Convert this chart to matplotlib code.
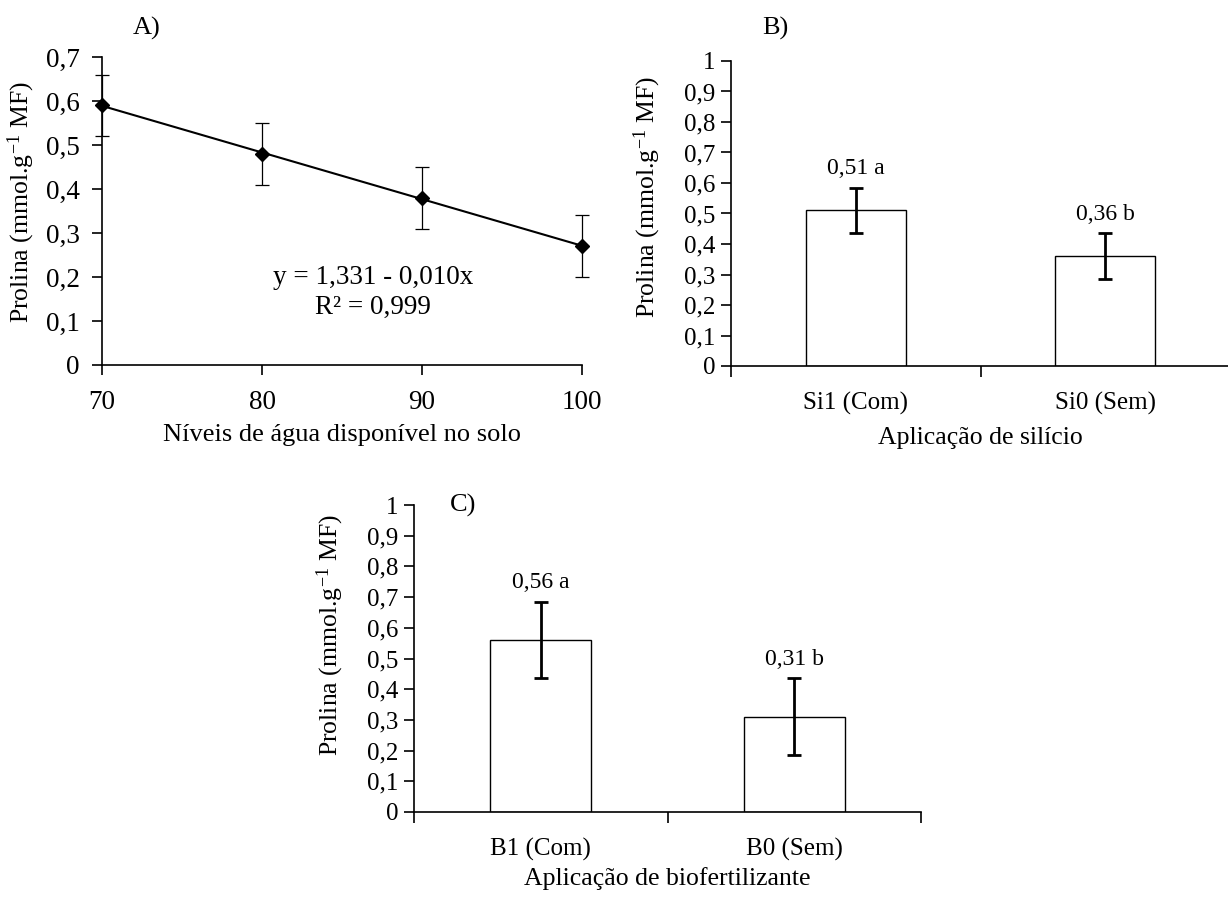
import matplotlib
matplotlib.use('Agg')
import matplotlib.pyplot as plt
import numpy as np
from matplotlib.ticker import FuncFormatter

plt.rcParams['font.family'] = ['Liberation Serif', 'DejaVu Serif']
plt.rcParams['mathtext.default'] = 'regular'

# ---------------- data ----------------
# Panel A
water_levels = [70, 80, 90, 100]
prolina_a = [0.59, 0.48, 0.38, 0.27]
err_a = [0.07, 0.07, 0.07, 0.07]
yticks_a = [0, 0.1, 0.2, 0.3, 0.4, 0.5, 0.6, 0.7]
eq_line1 = "y = 1,331 - 0,010x"
eq_line2 = "R² = 0,999"

# Panel B
cats_b = ['Si1 (Com)', 'Si0 (Sem)']
vals_b = [0.51, 0.36]
err_b = [0.075, 0.075]
letters_b = ['a', 'b']

# Panel C
cats_c = ['B1 (Com)', 'B0 (Sem)']
vals_c = [0.56, 0.31]
err_c = [0.125, 0.125]
letters_c = ['a', 'b']

yticks_bar = [0, 0.1, 0.2, 0.3, 0.4, 0.5, 0.6, 0.7, 0.8, 0.9, 1.0]
ylabel = r'Prolina (mmol.g$^{-1}$ MF)'

W, H = 1228, 898


def comma_fmt(v, pos=None):
    if abs(v - round(v)) < 1e-9:
        return str(int(round(v)))
    return f'{v:.1f}'.replace('.', ',')


def rect(left, right, bottom, top):
    return [left / W, 1 - bottom / H, (right - left) / W, (bottom - top) / H]


fig = plt.figure(figsize=(W / 100, H / 100), dpi=100)

# ---------------- Panel A ----------------
axA = fig.add_axes(rect(102, 582, 365, 57))
coef = np.polyfit(water_levels, prolina_a, 1)
xs = np.array([min(water_levels), max(water_levels)])
axA.plot(xs, np.polyval(coef, xs), color='black', lw=1.5, zorder=2)
axA.errorbar(water_levels, prolina_a, yerr=err_a, fmt='none', ecolor='black',
             elinewidth=0.9, capsize=5, capthick=0.9, zorder=3, clip_on=False)
axA.plot(water_levels, prolina_a, 'D', color='black', ms=7, zorder=4, clip_on=False)
axA.set_xlim(70, 100)
axA.set_ylim(0, 0.7)
axA.set_xticks(water_levels)
axA.set_yticks(yticks_a)
axA.yaxis.set_major_formatter(FuncFormatter(comma_fmt))
axA.tick_params(axis='both', direction='out', length=7, width=1.2, labelsize=19.5)
axA.tick_params(axis='y', pad=9)
axA.tick_params(axis='x', pad=11)
for s in ['top', 'right']:
    axA.spines[s].set_visible(False)
for s in ['left', 'bottom']:
    axA.spines[s].set_linewidth(1.2)
axA.set_ylabel(ylabel, fontsize=18.5)
axA.yaxis.set_label_coords(-0.135, 0.53)
axA.set_xlabel('Níveis de água disponível no solo', fontsize=19)
axA.xaxis.set_label_coords(0.5, -0.19)
axA.text(0.565, 0.235, eq_line1 + '\n' + eq_line2, transform=axA.transAxes,
         ha='center', va='center', fontsize=19.5, linespacing=1.25)


def bar_panel(ax, cats, vals, errs, letters, xlabel, xlabel_y):
    x = np.arange(len(cats))
    ax.bar(x, vals, width=0.4, color='white', edgecolor='black', linewidth=1.0, zorder=2)
    ax.errorbar(x, vals, yerr=errs, fmt='none', ecolor='black', elinewidth=2,
                capsize=5, capthick=2, zorder=3)
    for xi, v, e, l in zip(x, vals, errs, letters):
        ax.annotate(f'{v:.2f}'.replace('.', ',') + ' ' + l, xy=(xi, v + e),
                    xytext=(0, 6), textcoords='offset points', ha='center',
                    va='bottom', fontsize=17)
    ax.set_xlim(-0.5, len(cats) - 0.5)
    ax.set_ylim(0, 1)
    ax.set_yticks(yticks_bar)
    ax.yaxis.set_major_formatter(FuncFormatter(comma_fmt))
    ax.set_xticks(np.arange(len(cats) + 1) - 0.5)
    ax.set_xticklabels([''] * (len(cats) + 1))
    ax.set_xticks(x, minor=True)
    ax.set_xticklabels(cats, minor=True)
    ax.tick_params(axis='x', which='major', direction='out', length=8, width=1.2)
    ax.tick_params(axis='x', which='minor', length=0, pad=19, labelsize=18)
    ax.tick_params(axis='y', direction='out', length=7, width=1.2, labelsize=18, pad=4)
    for s in ['top', 'right']:
        ax.spines[s].set_visible(False)
    for s in ['left', 'bottom']:
        ax.spines[s].set_linewidth(1.2)
    ax.set_ylabel(ylabel, fontsize=18.5)
    ax.set_xlabel(xlabel, fontsize=18.5)
    ax.xaxis.set_label_coords(0.5, xlabel_y)


# ---------------- Panel B ----------------
axB = fig.add_axes(rect(731, 1230, 366, 61))
bar_panel(axB, cats_b, vals_b, err_b, letters_b, 'Aplicação de silício', -0.2)
axB.yaxis.set_label_coords(-0.137, 0.554)

# ---------------- Panel C ----------------
axC = fig.add_axes(rect(414, 921, 812, 505))
bar_panel(axC, cats_c, vals_c, err_c, letters_c, 'Aplicação de biofertilizante', -0.178)
axC.yaxis.set_label_coords(-0.134, 0.577)

# Panel letters
fig.text(147 / W, 1 - 28 / H, 'A)', fontsize=19, ha='center', va='center')
fig.text(775 / W, 1 - 28 / H, 'B)', fontsize=19, ha='center', va='center')
fig.text(463 / W, 1 - 505 / H, 'C)', fontsize=19, ha='center', va='center')

fig.savefig('out.png', dpi=100)
